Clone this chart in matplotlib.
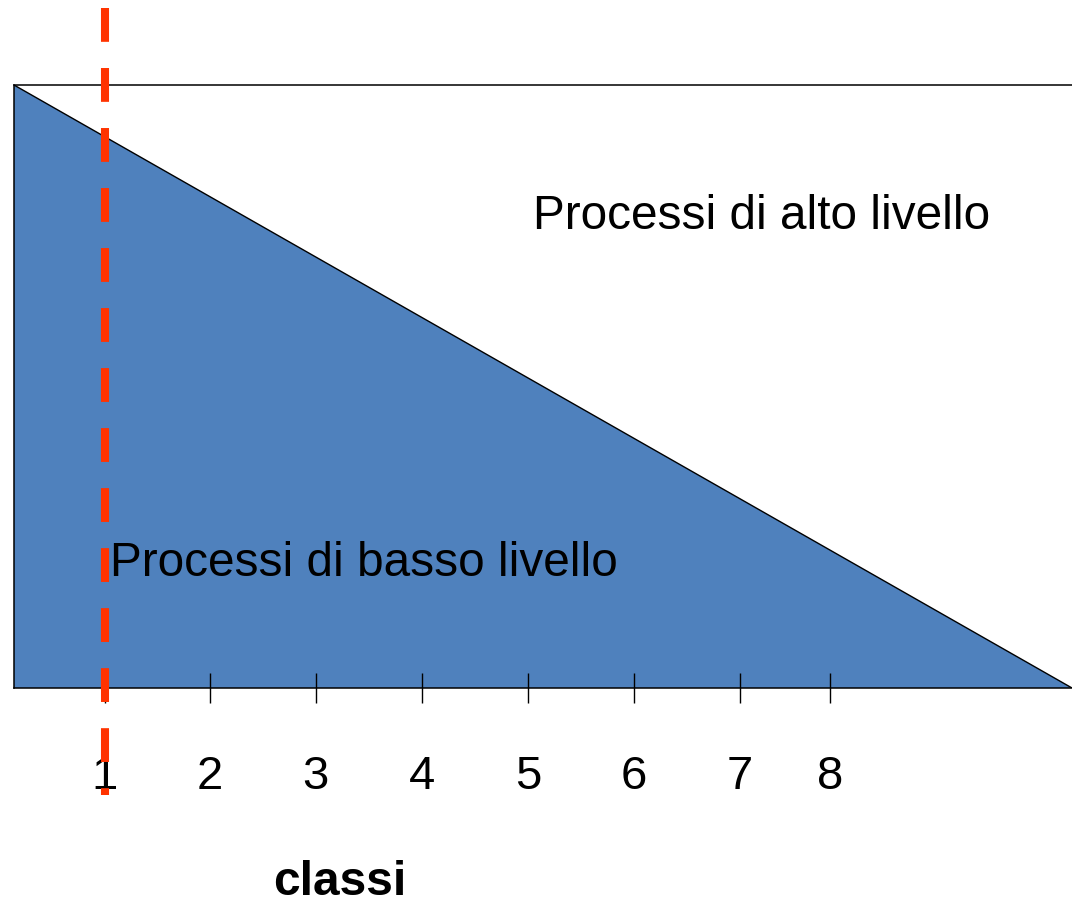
import matplotlib
matplotlib.use("Agg")
import matplotlib.pyplot as plt

# data: share of low-level processes falling linearly across the class range
x_span = [0.0, 10.0]
low_share = [1.0, 0.0]
class_pos = [0.86, 1.85, 2.85, 3.86, 4.86, 5.86, 6.86, 7.71]
class_labels = ["1", "2", "3", "4", "5", "6", "7", "8"]
cut_class = class_pos[0]

plt.rcParams['font.family'] = ['Liberation Sans', 'DejaVu Sans']

fig = plt.figure(figsize=(10.72, 9.01), dpi=100)
ax = fig.add_axes([14 / 1072, 213 / 901, 1058 / 1072, 603 / 901])

ax.fill_between(x_span, low_share, 0, facecolor='#4F81BD', edgecolor='none', zorder=1)
ax.plot(x_span, low_share, color='black', lw=1.0, zorder=2)

ax.set_xlim(x_span)
ax.set_ylim(0, 1)

for side in ['left', 'top', 'bottom']:
    ax.spines[side].set_linewidth(1.1)
ax.spines['right'].set_visible(False)

ax.set_yticks([])
ax.set_xticks(class_pos)
ax.set_xticklabels(class_labels)
ax.tick_params(axis='x', direction='inout', length=21, width=1.0,
               labelsize=34, pad=38)

ax.text(4.905, 0.782, "Processi di alto livello", fontsize=34.4,
        ha='left', va='center')
ax.text(0.907, 0.207, "Processi di basso livello", fontsize=34.4,
        ha='left', va='center', zorder=3)
ax.text(0.308, -0.3433, "classi", fontsize=34.5, fontweight='bold',
        ha='center', va='baseline', transform=ax.transAxes)

ax.plot([cut_class, cut_class], [1.1277, -0.1774], color='#FF3300', lw=5.8,
        dashes=(4.2, 3.25), solid_capstyle='butt', dash_capstyle='butt',
        clip_on=False, zorder=5)

fig.savefig("out.png", dpi=100)
